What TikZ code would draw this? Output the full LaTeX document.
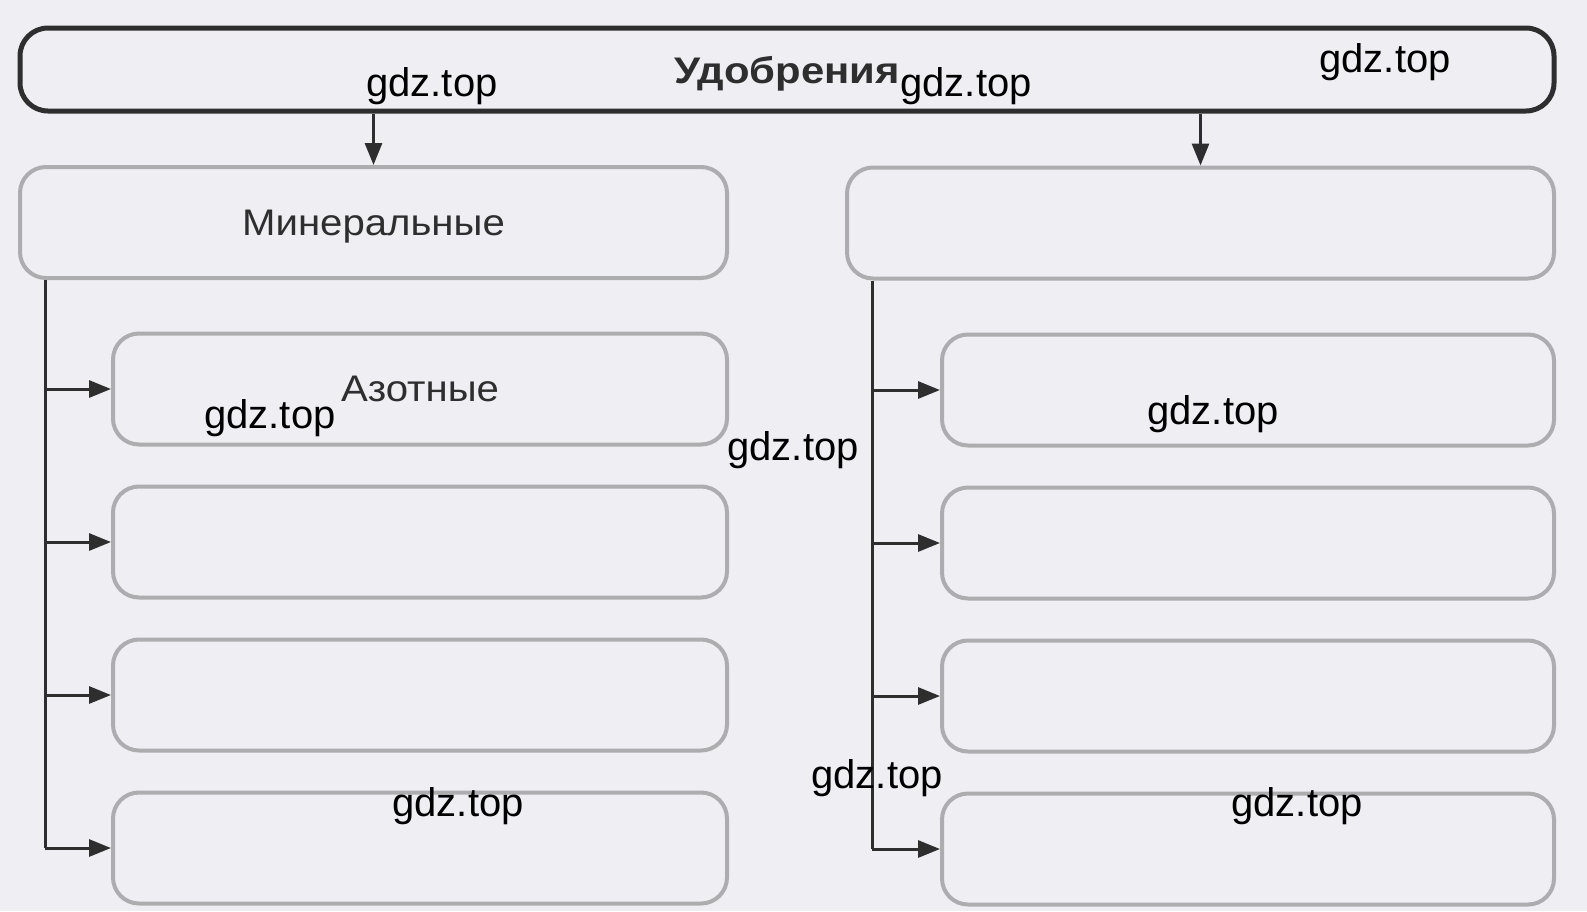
\documentclass[tikz,border=0pt]{standalone}
\usepackage{fontspec}
\setmainfont{Liberation Sans}[FakeStretch=1.085,BoldFeatures={FakeStretch=1.13}]
\newfontfamily\wmfont{Liberation Sans}
\usetikzlibrary{arrows.meta}
\usetikzlibrary{positioning}
\usetikzlibrary{calc}
\definecolor{bgcol}{HTML}{EFEEF3}
\definecolor{boxgray}{HTML}{ADADAF}
\definecolor{inkgray}{HTML}{2E2E2E}

\begin{document}
\begin{tikzpicture}[x=1pt,y=-1pt,->,>={Triangle[length=22pt,width=17pt]},
					line width=3pt,color=inkgray,node distance=38pt]
					\tikzstyle{every node}=[font=\fontsize{37}{42}\selectfont,text=inkgray,text depth=0pt]
					\tikzstyle{head}=[draw=inkgray,line width=5pt,rounded corners=28pt,minimum width=1534pt,minimum height=83pt,inner sep=0pt]
					\tikzstyle{box}=[draw=boxgray,line width=4pt,rounded corners=26pt,minimum height=111pt,inner sep=0pt]
					\tikzstyle{wm}=[font=\wmfont\fontsize{40}{44}\selectfont,text=black,text depth=,inner sep=0pt]
					
					\fill[bgcol] (0,0) rectangle (1587,911);
					\useasboundingbox (0,0) rectangle (1587,911);
					
					\node[head]                      (udob) at (787,69.5)    {\bfseries Удобрения};
					\node[box,minimum width=707pt]   (miner) at (373.5,222.5) {Минеральные};
					\node[box,minimum width=707pt]   (organ) at (1200.5,223) {};
					
					\node[box,minimum width=614pt]   (m_1) at (420,389)      {Азотные};
					\node[box,minimum width=614pt]   (m_2) [below=of m_1]    {};
					\node[box,minimum width=614pt]   (m_3) [below=of m_2]    {};
					\node[box,minimum width=614pt]   (m_4) [below=of m_3]    {};
					
					\node[box,minimum width=612pt]   (o_1) at (1248,390)     {};
					\node[box,minimum width=612pt]   (o_2) [below=of o_1]    {};
					\node[box,minimum width=612pt]   (o_3) [below=of o_2]    {};
					\node[box,minimum width=612pt]   (o_4) [below=of o_3]    {};
					
					\coordinate (lt) at ($(miner.south west)+(27,0)$);
					\coordinate (rt) at ($(organ.south west)+(27,0)$);
					
					\path (udob.south -| miner.north) edge (miner.north)
					(udob.south -| organ.north) edge (organ.north);
					
					\draw[-] (lt) -- (lt |- m_4.west);
					\draw[-] (rt) -- (rt |- o_4.west);
					
					\path (lt |- m_1.west) edge (m_1.west)
					(lt |- m_2.west) edge (m_2.west)
					(lt |- m_3.west) edge (m_3.west)
					(lt |- m_4.west) edge (m_4.west)
					(rt |- o_1.west) edge (o_1.west)
					(rt |- o_2.west) edge (o_2.west)
					(rt |- o_3.west) edge (o_3.west)
					(rt |- o_4.west) edge (o_4.west);
					
					% watermark
					\node[wm] (wm_1) at (432,86)   {gdz.top};
					\node[wm] (wm_2) at (966,86.5) {gdz.top};
					\node[wm] (wm_3) at (1385,62)  {gdz.top};
					\node[wm] (wm_4) at (270,418)  {gdz.top};
					\node[wm] (wm_5) at (793,450)  {gdz.top};
					\node[wm] (wm_6) at (1213,414) {gdz.top};
					\node[wm] (wm_7) at (458,806)  {gdz.top};
					\node[wm] (wm_8) at (877,778)  {gdz.top};
					\node[wm] (wm_9) at (1297,806) {gdz.top};
					\end{tikzpicture}
\end{document}
